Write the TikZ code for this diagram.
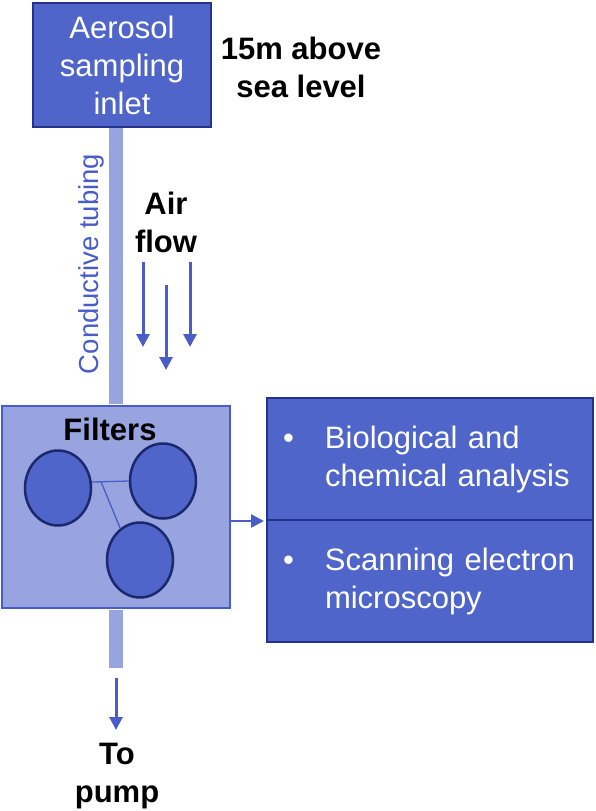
\documentclass[tikz,border=0pt]{standalone}
\usepackage{fontspec}
\setmainfont{Liberation Sans}
\usetikzlibrary{shapes.geometric,arrows.meta,calc}
\definecolor{boxblue}{RGB}{79,101,201}
\definecolor{boxedge}{RGB}{36,50,140}
\definecolor{tubeblue}{RGB}{152,164,224}
\definecolor{flowblue}{RGB}{74,92,200}
\definecolor{discedge}{RGB}{27,40,110}
\tikzset{basic/.style={draw=boxedge,fill=boxblue,line width=2pt,text=white,
                       font=\fontsize{31}{38}\selectfont}}
\tikzset{inletbox/.style={basic,minimum width=178,minimum height=124,align=center}}
\tikzset{analysis/.style={basic,minimum width=326,minimum height=122,
                          text width=294,inner xsep=16,align=left}}
\tikzset{filterbox/.style={draw=flowblue,fill=tubeblue,line width=2pt,
                           minimum width=228,minimum height=202}}
\tikzset{disc/.style={ellipse,draw=discedge,fill=boxblue,line width=2.5pt,
                      minimum width=66,minimum height=75}}
\tikzset{tube/.style={tubeblue,line width=14pt}}
\tikzset{flow/.style={flowblue,line width=3pt,-{Triangle[length=13pt,width=13pt]}}}
\tikzset{link/.style={flowblue,line width=1.3pt}}
\tikzset{label/.style={font=\fontsize{31}{38}\selectfont\bfseries,align=center}}

\begin{document}
\begin{tikzpicture}[x=1pt,y=-1pt]
    \useasboundingbox (0,0) rectangle (596,811);
    \node[inletbox] (inlet) at (122,65) {Aerosol\\sampling\\inlet};
    \node[filterbox] (filters) at (116,507) {};
    \node[analysis] (bio) at (430,459)
        {\makebox[42pt][l]{\textbullet}Biological and\\\hspace*{42pt}chemical analysis};
    \node[analysis] (sem) at (430,581)
        {\makebox[42pt][l]{\textbullet}Scanning electron\\\hspace*{42pt}microscopy};

    % tubing
    \draw[tube,shorten <=1pt] (filters.north) -- (filters.north |- inlet.south);
    \coordinate (tubeend) at (116,668);
    \draw[tube,shorten <=1pt] (filters.south) -- (tubeend);
    \node[rotate=90,text=flowblue,font=\fontsize{27.5}{30}\selectfont] (tubing) at (91,264)
        {Conductive tubing};

    % filters
    \node[disc] (f1) at (58,488) {};
    \node[disc] (f2) at (163,481) {};
    \node[disc] (f3) at (140,560) {};
    \draw[link] (f1.10) -- (f2.west);
    \draw[link] ($(f1.10)!0.25!(f2.west)$) -- (f3.122);
    \node[label,anchor=base] (filtlabel) at (110,440) {Filters};
    \draw[flow,line width=2.5pt,shorten >=2pt] (filters.east |- bio.south) -- (bio.south west);

    % air flow
    \foreach \x/\y [count=\i] in {143/262,166/285,190/262}{%
          \coordinate (a\i) at (\x,\y);
          \draw[flow] (a\i) -- ++(0,85);
        }

    % pump
    \coordinate (pumptop) at (116,678);
    \coordinate (pumpbot) at (116,730);
    \draw[flow] (pumptop) -- (pumpbot);

    % Labels
    \node[label] (height) at (301,67) {15m above\\sea level};
    \node[label] (air) at (166,222) {Air\\flow};
    \node[label] (pump) at (117,776) {To\\pump};
\end{tikzpicture}
\end{document}
